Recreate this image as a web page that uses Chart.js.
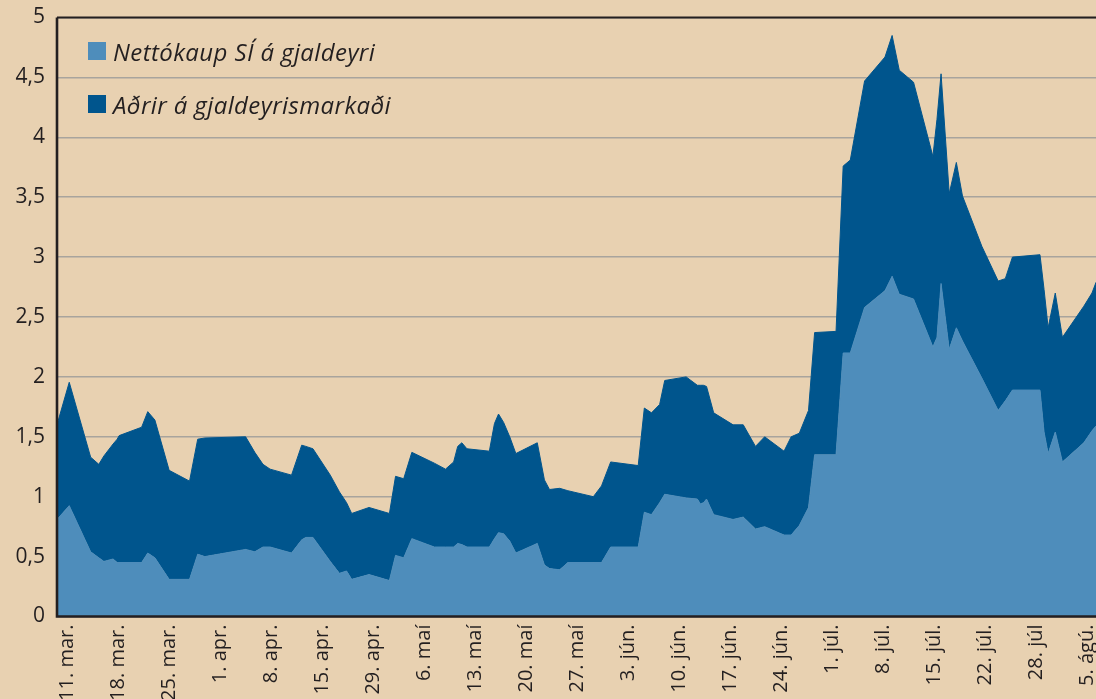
<!DOCTYPE html>
<html>
<head>
<meta charset="utf-8">
<script src="https://cdn.jsdelivr.net/npm/chart.js@4"></script>
<style>
  html, body { margin: 0; padding: 0; background: #e8d1b1; overflow: hidden; }
  #wrap { position: relative; width: 1096px; height: 699px; overflow: hidden; background: #e8d1b1; }
  #mycanvas { position: absolute; left: 0; top: 0; }
  #skyring { position: absolute; left: 88px; top: 40px; font-family: "Open Sans", sans-serif; font-style: italic; font-size: 24px; letter-spacing: 0.4px; color: #231f20; }
  .lina { display: flex; align-items: center; height: 22px; margin-bottom: 31px; white-space: nowrap; }
  .kassi { width: 18px; height: 18px; margin-right: 7px; flex: none; }
</style>
</head>
<body>
<div id="wrap">
  <canvas id="mycanvas" width="1119" height="760"></canvas>
  <div id="skyring"></div>
</div>
<script>
// x = viðskiptadagar frá 11. mars (u.þ.b. 5 á viku), y = ma.kr.
var dagar = [0, 1.2, 3.3, 4.1, 4.6, 5.5, 5.9, 6.1, 8.3, 8.9,
  9.6, 11.0, 13.0, 13.8, 14.5, 18.5, 19.4, 20.2, 20.9, 23.0,
  24.0, 24.4, 25.1, 26.8, 27.7, 28.4, 28.9, 30.6, 32.6, 33.2,
  34.0, 34.8, 37.0, 38.1, 38.9, 39.3, 39.7, 40.2, 42.4, 42.9,
  43.3, 43.8, 44.4, 45.0, 47.1, 47.8, 48.3, 49.3, 50.1, 52.6,
  53.4, 54.3, 57.0, 57.6, 58.3, 59.1, 59.6, 61.7, 62.8, 63.1,
  63.4, 63.7, 64.4, 66.3, 67.3, 68.5, 69.4, 71.3, 72.0, 72.8,
  73.7, 74.3, 76.4, 77.1, 77.8, 79.2, 81.2, 81.9, 82.6, 84.0,
  85.9, 86.3, 86.7, 87.5, 88.2, 88.8, 90.7, 92.3, 93.0, 93.7,
  96.4, 96.8, 97.2, 97.9, 98.6, 100.7, 101.5, 101.9];

var nettokaup = [.81, .925, .54, .49, .46, .48, .45, .45, .45, .53,
  .49, .31, .31, .52, .50, .56, .54, .58, .58, .53,
  .64, .66, .66, .46, .36, .38, .31, .35, .30, .51,
  .49, .65, .58, .58, .58, .61, .60, .58, .58, .65,
  .70, .69, .63, .53, .61, .43, .40, .39, .45, .45,
  .45, .58, .58, .87, .85, .95, 1.02, .99, .98, .94,
  .95, .98, .85, .81, .83, .73, .75, .68, .68, .76,
  .91, 1.35, 1.35, 2.20, 2.20, 2.58, 2.72, 2.84, 2.69, 2.65,
  2.25, 2.33, 2.78, 2.23, 2.41, 2.30, 1.99, 1.72, 1.80, 1.89,
  1.89, 1.54, 1.36, 1.54, 1.29, 1.45, 1.55, 1.59];

var adrir = [.79, 1.03, .79, .78, .88, .96, 1.03, 1.06, 1.13, 1.18,
  1.15, .91, .82, .96, .99, .94, .83, .69, .65, .65,
  .79, .76, .74, .72, .68, .57, .55, .56, .56, .66,
  .66, .72, .70, .65, .71, .81, .85, .82, .80, .96,
  .99, .93, .87, .83, .84, .71, .66, .68, .60, .55,
  .64, .71, .68, .87, .85, .82, .95, 1.01, .95, .99,
  .98, .94, .85, .79, .77, .69, .75, .70, .82, .77,
  .81, 1.02, 1.03, 1.56, 1.61, 1.89, 1.95, 2.01, 1.87, 1.81,
  1.59, 1.82, 1.75, 1.30, 1.38, 1.21, 1.10, 1.08, 1.02, 1.11,
  1.13, 1.19, 1.05, 1.16, 1.04, 1.14, 1.15, 1.20];

var vikur = ['11. mar.', '18. mar.', '25. mar.', '1. apr.', '8. apr.', '15. apr.', '29. apr.',
  '6. maí', '13. maí', '20. maí', '27. maí', '3. jún.', '10. jún.', '17. jún.', '24. jún.',
  '1. júl.', '8. júl.', '15. júl.', '22. júl.', '28. júl', '5. ágú.'];
var vikuDagar = vikur.map(function(v, i) { return 1 + 5 * i; });

var yMerki = ['0', '0,5', '1', '1,5', '2', '2,5', '3', '3,5', '4', '4,5', '5'];

var ljos = '#4e8dbb';
var dokk = '#00558d';
var texti = '#231f20';

function punktar(gildi) {
  return dagar.map(function(d, i) { return { x: d, y: gildi[i] }; });
}

var ramminn = {
  id: 'ramminn',
  afterDatasetsDraw: function(chart) {
    var ctx = chart.ctx, a = chart.chartArea;
    ctx.save();
    ctx.strokeStyle = texti;
    ctx.lineWidth = 2;
    ctx.beginPath();
    ctx.moveTo(a.right + 30, a.top);
    ctx.lineTo(a.left, a.top);
    ctx.stroke();
    ctx.lineWidth = 2.6;
    ctx.beginPath();
    ctx.moveTo(a.left, a.top);
    ctx.lineTo(a.left, a.bottom);
    ctx.lineTo(a.right + 30, a.bottom);
    ctx.stroke();
    ctx.restore();
  }
};

var ctx = document.getElementById('mycanvas');

var LineGraph = new Chart(ctx, {
  type: 'line',
  data: {
    datasets: [
      {
        label: 'Nettókaup SÍ á gjaldeyri',
        data: punktar(nettokaup),
        backgroundColor: ljos,
        borderColor: ljos,
        borderWidth: 1,
        fill: 'origin',
        pointRadius: 0,
        tension: 0
      },
      {
        label: 'Aðrir á gjaldeyrismarkaði',
        data: punktar(adrir),
        backgroundColor: dokk,
        borderColor: dokk,
        borderWidth: 1,
        fill: '-1',
        pointRadius: 0,
        tension: 0
      }
    ]
  },
  options: {
    responsive: false,
    animation: false,
    layout: { padding: { top: 17.5, right: 14, bottom: 0, left: 0 } },
    plugins: {
      legend: { display: false },
      tooltip: { enabled: false }
    },
    scales: {
      x: {
        type: 'linear',
        min: 0,
        max: 101.9,
        grid: { display: false, drawTicks: false },
        border: { display: false },
        afterBuildTicks: function(scale) {
          scale.ticks = vikuDagar.map(function(v) { return { value: v }; });
        },
        afterFit: function(scale) { scale.height = 760 - 616.5; },
        ticks: {
          autoSkip: false,
          minRotation: 90,
          maxRotation: 90,
          padding: 8,
          color: texti,
          font: { family: 'Open Sans', size: 20 },
          callback: function(v, i) { return vikur[i]; }
        }
      },
      y: {
        stacked: true,
        min: 0,
        max: 5,
        grid: { color: '#a8a49d', lineWidth: 1.5, drawTicks: false },
        border: { display: false },
        afterFit: function(scale) { scale.width = 57; },
        ticks: {
          stepSize: 0.5,
          padding: 12,
          color: texti,
          font: { family: 'Open Sans', size: 21, lineHeight: 0.5 },
          callback: function(v, i) { return yMerki[i]; }
        }
      }
    }
  },
  plugins: [ramminn]
});

var skyring = document.getElementById('skyring');
LineGraph.data.datasets.forEach(function(ds) {
  var lina = document.createElement('div');
  lina.className = 'lina';
  var kassi = document.createElement('span');
  kassi.className = 'kassi';
  kassi.style.background = ds.backgroundColor;
  var heiti = document.createElement('span');
  heiti.textContent = ds.label;
  lina.appendChild(kassi);
  lina.appendChild(heiti);
  skyring.appendChild(lina);
});
</script>
</body>
</html>
